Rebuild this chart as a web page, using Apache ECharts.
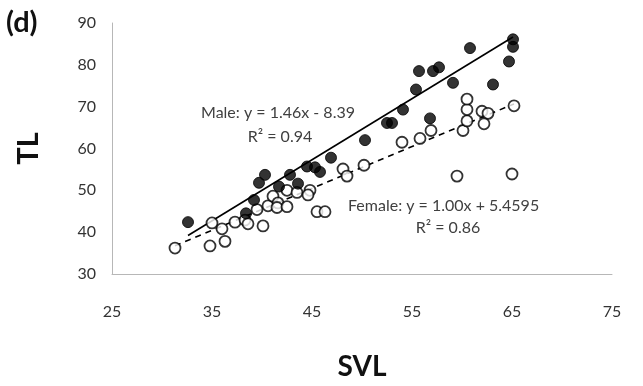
<!DOCTYPE html>
<html lang="en">
<head>
    <meta charset="UTF-8">
    <title>SVL vs TL</title>
    <script src="https://cdn.jsdelivr.net/npm/echarts@6/dist/echarts.min.js"></script>
    <style>
        html, body { margin: 0; padding: 0; background: #fff; }
    </style>
</head>
<body>
<div id="main" style="width: 643px;height:386px;"></div>
<script type="text/javascript">
    // SVL (x) and TL (y) for each sex
    var maleSVL = [32.6, 38.4, 39.2, 39.7, 40.3, 41.7, 42.8, 43.6, 44.5, 45.3, 45.8, 46.9, 50.3,
        52.5, 53.0, 54.1, 55.4, 55.7, 57.1, 57.7, 56.8, 59.1, 60.8, 63.1, 64.7, 65.1, 65.1];
    var maleTL = [42.4, 44.5, 47.7, 51.8, 53.7, 50.9, 53.7, 51.6, 55.7, 55.5, 54.4, 57.8, 62.0,
        66.1, 66.1, 69.3, 74.1, 78.5, 78.5, 79.4, 67.2, 75.7, 84.0, 75.3, 80.8, 84.3, 86.1];

    var femaleSVL = [31.3, 34.8, 36.3, 35.0, 36.0, 37.3, 38.3, 38.6, 40.1, 39.5, 40.6, 41.1, 41.6,
        41.5, 42.5, 42.5, 43.5, 44.8, 44.6, 45.5, 46.3, 48.1, 48.5, 50.2, 54.0, 55.8, 56.9,
        59.5, 60.1, 60.5, 60.5, 60.5, 62.0, 62.6, 62.2, 65.2, 65.0];
    var femaleTL = [36.2, 36.7, 37.8, 42.2, 40.8, 42.4, 42.9, 42.0, 41.5, 45.4, 46.3, 48.6, 47.0,
        45.9, 46.1, 50.0, 49.5, 50.0, 48.9, 44.9, 44.9, 55.1, 53.4, 56.0, 61.5, 62.4, 64.3,
        53.4, 64.3, 66.6, 69.3, 71.8, 68.9, 68.4, 65.9, 70.2, 53.9];

    // fitted trendlines
    var maleFit = { slope: 1.46, icpt: -8.39, text: 'Male: y = 1.46x - 8.39', r2: 'R\u00b2 = 0.94' };
    var femaleFit = { slope: 1.00, icpt: 5.4595, text: 'Female: y = 1.00x + 5.4595', r2: 'R\u00b2 = 0.86' };

    var xTicks = [25, 35, 45, 55, 65, 75];
    var yTicks = [30, 40, 50, 60, 70, 80, 90];

    function pairs(xs, ys) {
        var out = [];
        for (var i = 0; i < xs.length; i++) out.push([xs[i], ys[i]]);
        return out;
    }
    function fitLine(xs, fit) {
        var lo = Math.min.apply(null, xs), hi = Math.max.apply(null, xs);
        return [[lo, fit.slope * lo + fit.icpt], [hi, fit.slope * hi + fit.icpt]];
    }

    var font = 'Lato, "Liberation Sans", sans-serif';
    var eqStyle = { fontSize: 16, fontFamily: font, fill: '#404040', verticalAlign: 'middle' };
    var myChart = echarts.init(document.getElementById('main'));

    var option = {
        animation: false,
        backgroundColor: '#fff',
        grid: { left: 112, right: 31, top: 23, bottom: 102 },
        xAxis: {
            type: 'value',
            min: xTicks[0], max: xTicks[xTicks.length - 1], interval: 10,
            axisLine: { lineStyle: { color: '#b7b7b7', width: 1 } },
            axisTick: { show: false },
            splitLine: { show: false },
            axisLabel: { color: '#333', fontSize: 16, fontFamily: font, margin: 30 },
            name: 'SVL',
            nameLocation: 'middle',
            nameGap: 79,
            nameTextStyle: { color: '#111', fontSize: 28, fontWeight: 'bold', fontFamily: font }
        },
        yAxis: {
            type: 'value',
            min: yTicks[0], max: yTicks[yTicks.length - 1], interval: 10,
            axisLine: { show: true, lineStyle: { color: '#b7b7b7', width: 1 } },
            axisTick: { show: false },
            splitLine: { show: false },
            axisLabel: { color: '#333', fontSize: 16, fontFamily: font, margin: 16 },
            name: 'TL',
            nameLocation: 'middle',
            nameGap: 69,
            nameRotate: 90,
            nameTextStyle: { color: '#111', fontSize: 29, fontWeight: 'bold', fontFamily: font }
        },
        graphic: [
            { type: 'text', left: 6, top: 8,
              style: { text: '(d)', fontSize: 29, fontWeight: 'bold', fontFamily: font, fill: '#111' } },
            { type: 'text', x: 278, y: 113,
              style: Object.assign({ text: maleFit.text, align: 'center' }, eqStyle) },
            { type: 'text', x: 280, y: 137,
              style: Object.assign({ text: maleFit.r2, align: 'center' }, eqStyle) },
            { type: 'text', x: 348, y: 206,
              style: Object.assign({ text: femaleFit.text, align: 'left' }, eqStyle) },
            { type: 'text', x: 448, y: 228,
              style: Object.assign({ text: femaleFit.r2, align: 'center' }, eqStyle) }
        ],
        series: [
            {
                name: 'male fit', type: 'line', data: fitLine(maleSVL, maleFit),
                symbol: 'none', lineStyle: { color: '#000', width: 1.6 }, z: 1
            },
            {
                name: 'female fit', type: 'line', data: fitLine(femaleSVL, femaleFit),
                symbol: 'none', lineStyle: { color: '#000', width: 1.6, type: [6, 5] }, z: 1
            },
            {
                name: 'female', type: 'scatter', data: pairs(femaleSVL, femaleTL),
                symbol: 'circle', symbolSize: 11,
                itemStyle: { color: '#fff', borderColor: '#000', borderWidth: 1.8 }, z: 2
            },
            {
                name: 'male', type: 'scatter', data: pairs(maleSVL, maleTL),
                symbol: 'circle', symbolSize: 11,
                itemStyle: { color: '#000', borderColor: '#000', borderWidth: 1 }, z: 3
            }
        ]
    };
    myChart.setOption(option);
</script>
</body>
</html>
